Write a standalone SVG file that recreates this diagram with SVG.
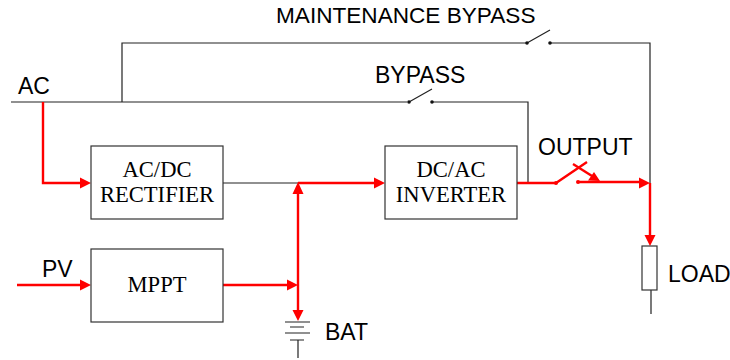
<svg xmlns="http://www.w3.org/2000/svg" width="730" height="360" viewBox="0 0 730 360">
<style>
.w{fill:none;stroke:#222;stroke-width:1.2}
.r{fill:none;stroke:#f00;stroke-width:2.4}
.box{fill:#fff;stroke:#333;stroke-width:1.2}
.s{font-family:"Liberation Sans",Arial,sans-serif;font-size:23px;fill:#000}
.t{font-family:"Liberation Serif","Times New Roman",serif;font-size:22.600px;fill:#000;text-anchor:middle}
.h{fill:#f00}
.d{fill:#111}
</style>
<rect width="730" height="360" fill="#fff"/>
<g id="connectors">
<path class="w" d="M11 102H407M122 102V43H527M550 43H650V183M431 102H528V183M223 183H298M651 290V314"/>
<path class="w" d="M527 43L550 30M409 102L432 89"/>
<circle class="d" cx="527" cy="43" r="1.8"/><circle class="d" cx="550" cy="43" r="1.8"/>
<circle class="d" cx="409" cy="102" r="1.8"/><circle class="d" cx="432" cy="102" r="1.8"/>
<path class="r" d="M43 102V183H82M298 183H376M298 192V312M222 285H288M17 285H82M517 183H556L587 162M578 182H641M650 183V236"/>
<path class="r" d="M573 164L592 176"/>
<circle class="h" cx="556" cy="183" r="2"/><circle class="h" cx="578" cy="182" r="2"/>
<path class="h" d="M91 183L80 177.500V188.500ZM385 183L374 177.500V188.500ZM298 182L292.500 194H303.500ZM298 285L287 279.500V290.500ZM298 321L292.500 310H303.500ZM91 285L80 279.500V290.500ZM650 183L639 177.500V188.500ZM650 246L644.500 235H655.500ZM600 181L588 180.500L594 172Z"/>
<path class="w" d="M285 322H310M290 327H304M285 333H310M290 340H304M298 340V358"/>
</g>
<g id="rectifier"><rect class="box" x="91" y="146" width="132" height="73"/><text class="t" x="157" y="177">AC/DC</text><text class="t" x="157" y="202">RECTIFIER</text></g>
<g id="mppt"><rect class="box" x="91" y="249" width="132" height="73"/><text class="t" x="157" y="292">MPPT</text></g>
<g id="inverter"><rect class="box" x="385" y="146" width="132" height="73"/><text class="t" x="451" y="177">DC/AC</text><text class="t" x="451" y="202">INVERTER</text></g>
<g id="load"><rect class="box" x="642" y="246" width="15" height="44"/><text class="s" x="668" y="282">LOAD</text></g>
<g id="labels">
<text class="s" x="276" y="23" style="font-size:22.600px">MAINTENANCE BYPASS</text>
<text class="s" x="375" y="83">BYPASS</text>
<text class="s" x="18" y="94">AC</text>
<text class="s" x="42" y="277">PV</text>
<text class="s" x="538" y="155">OUTPUT</text>
<text class="s" x="325" y="340">BAT</text>
</g>
</svg>
